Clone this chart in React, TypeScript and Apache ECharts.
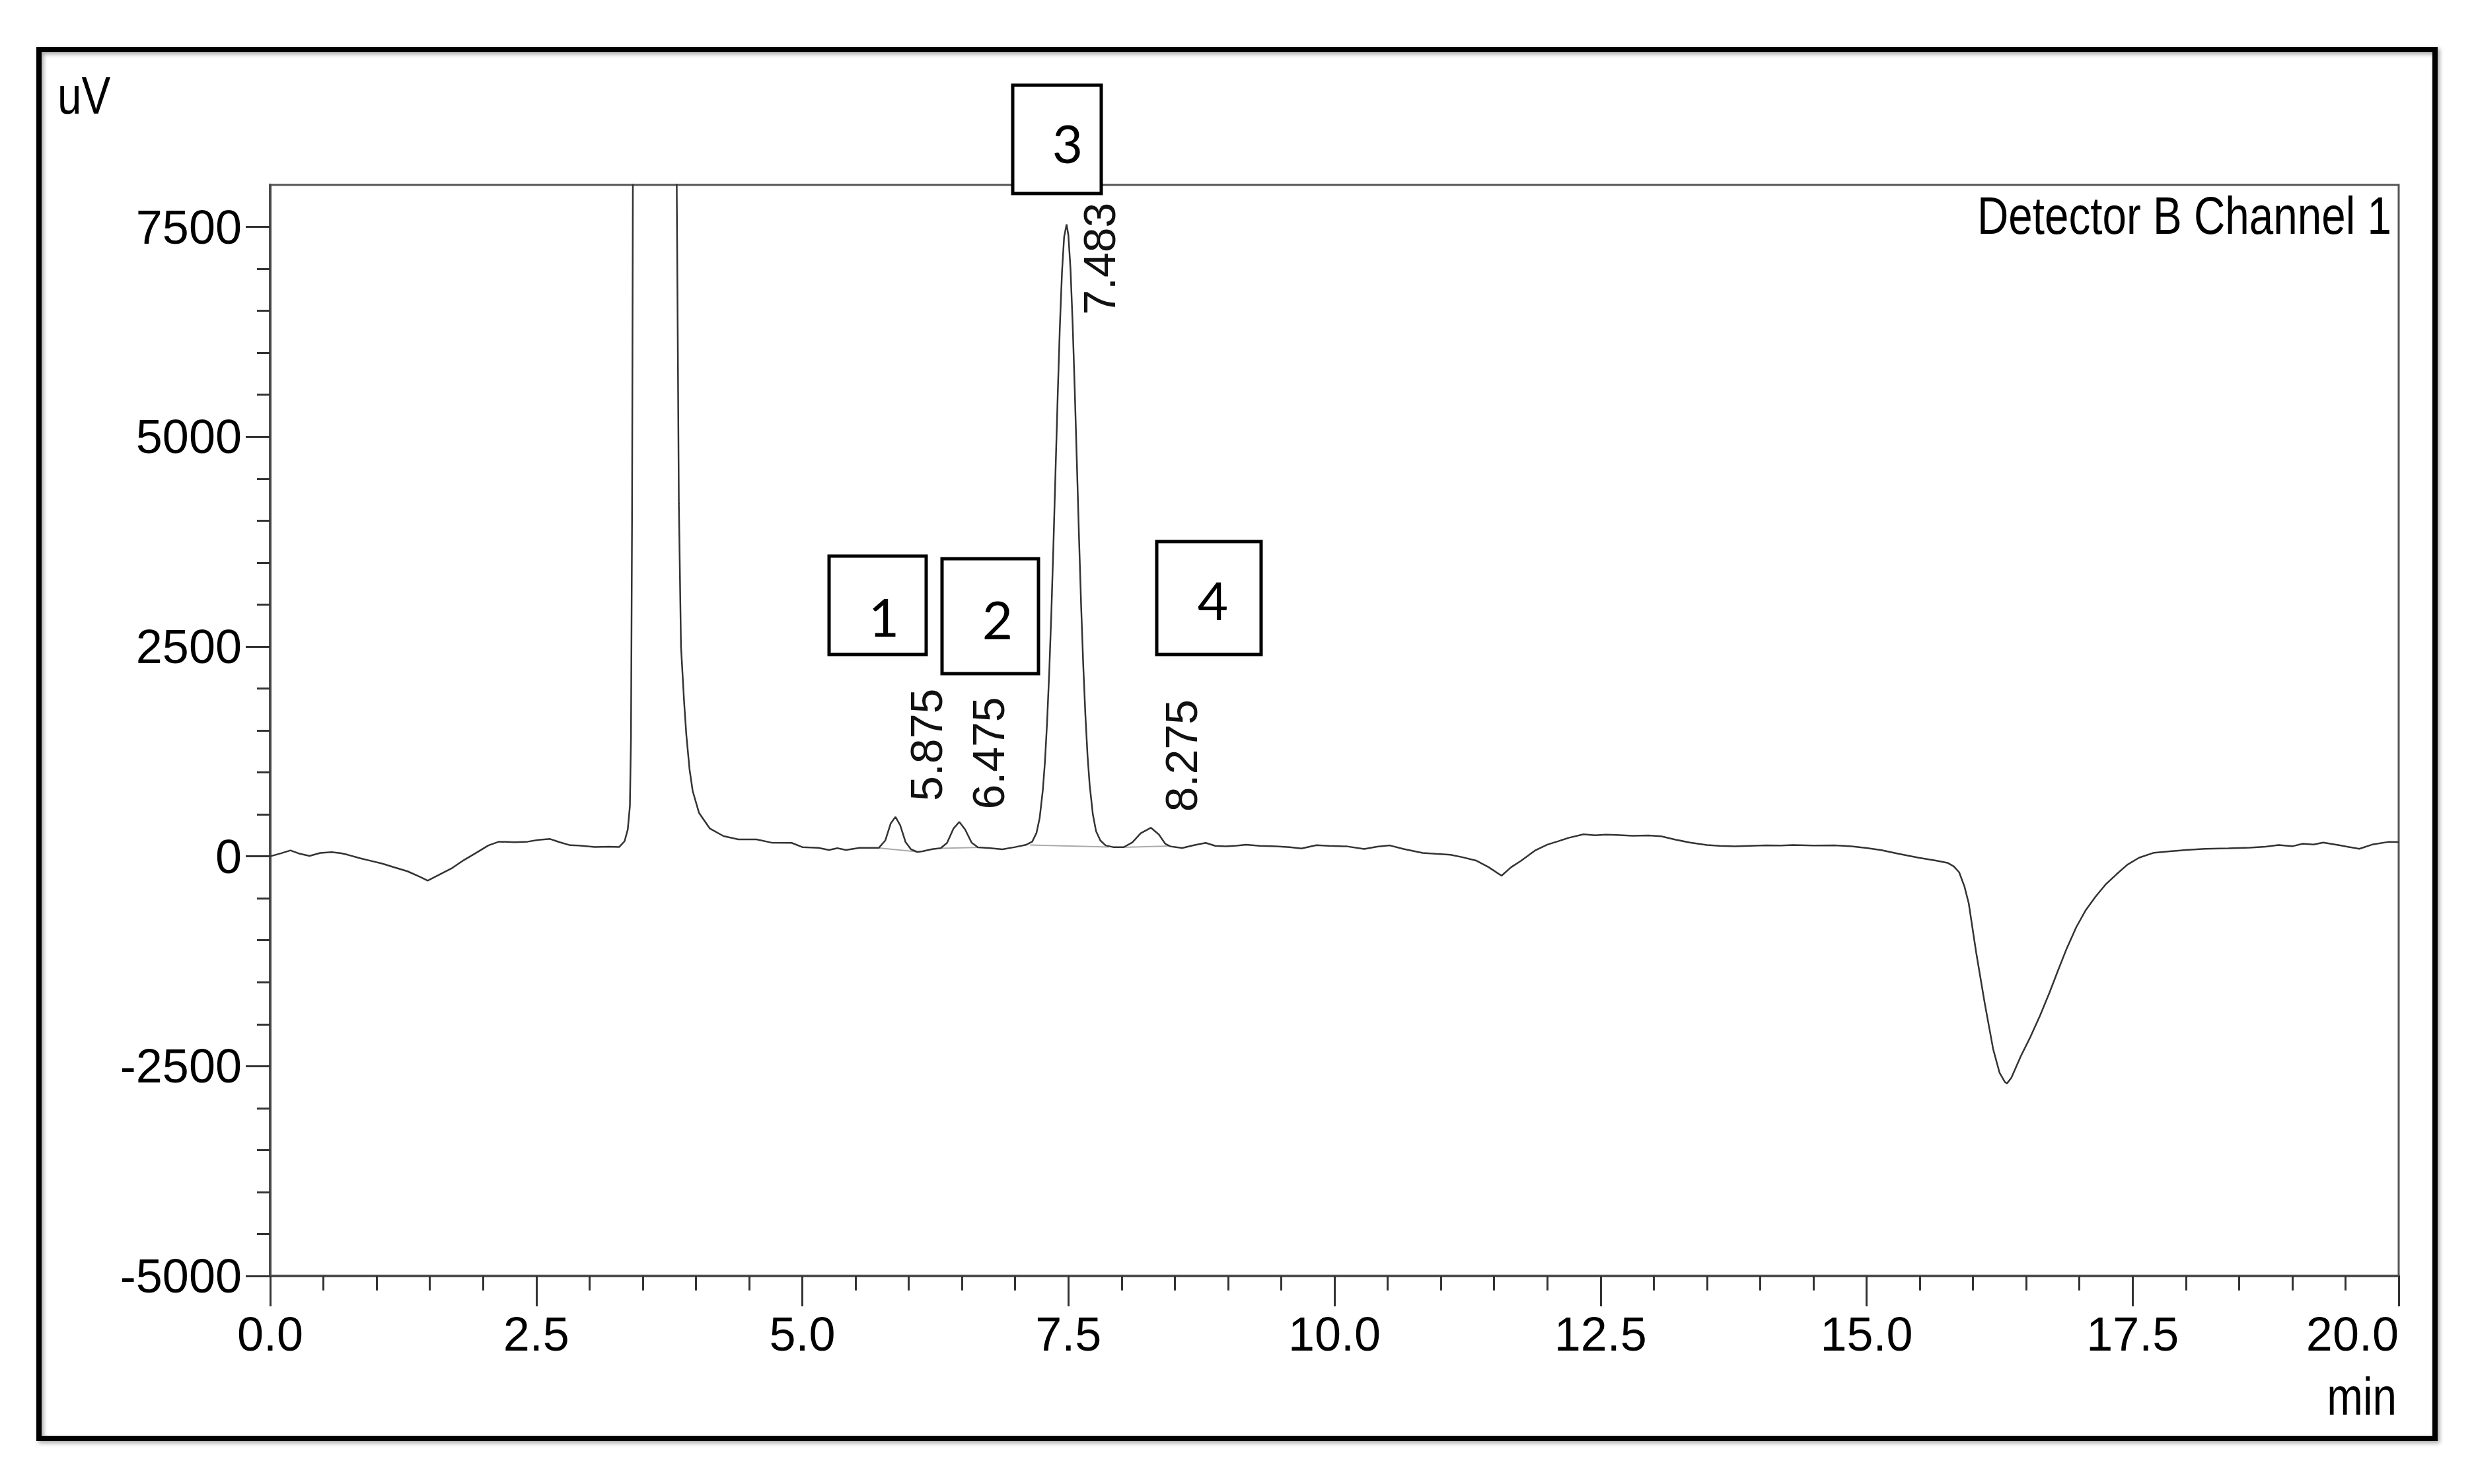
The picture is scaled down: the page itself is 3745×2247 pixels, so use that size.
import React, { useEffect, useRef } from 'react';
import * as echarts from 'echarts';

// ---------- DATA ----------
// chromatogram trace: [time (min), signal (uV)]
const trace: [number, number][] = [
  [0.00, 0], [0.10, 35], [0.19, 71], [0.28, 30], [0.37, 5], [0.47, 40], [0.58, 50], [0.66, 38],
  [0.73, 18], [0.85, -25], [0.95, -55], [1.05, -86], [1.15, -125], [1.29, -178], [1.40, -240],
  [1.48, -290], [1.58, -225], [1.71, -139], [1.82, -45], [1.94, 45], [2.05, 130], [2.15, 175],
  [2.30, 168], [2.42, 175], [2.52, 195], [2.63, 207], [2.72, 168], [2.82, 132], [2.90, 128],
  [3.05, 112], [3.18, 115], [3.28, 112], [3.33, 180], [3.36, 320], [3.38, 600], [3.39, 1400],
  [3.40, 4000], [3.41, 9000], [3.44, 20000], [3.60, 28000], [3.78, 18000], [3.82, 8000],
  [3.84, 4200], [3.86, 2500], [3.89, 1825], [3.91, 1450], [3.94, 1040], [3.97, 778], [4.03, 516],
  [4.13, 333], [4.26, 241], [4.40, 202], [4.57, 202], [4.71, 163], [4.90, 160], [5.00, 110],
  [5.15, 102], [5.25, 76], [5.33, 97], [5.41, 76], [5.54, 102], [5.72, 102], [5.78, 190],
  [5.83, 390], [5.875, 470], [5.92, 370], [5.97, 170], [6.02, 85], [6.08, 52], [6.13, 60],
  [6.22, 85], [6.30, 97], [6.36, 160], [6.42, 330], [6.475, 410], [6.53, 320], [6.59, 165],
  [6.65, 108], [6.75, 100], [6.88, 84], [7.00, 110], [7.10, 136], [7.16, 175], [7.20, 277],
  [7.23, 455], [7.26, 790], [7.28, 1130], [7.30, 1600], [7.32, 2190], [7.34, 2900], [7.36, 3730],
  [7.38, 4620], [7.40, 5500], [7.42, 6310], [7.44, 6960], [7.46, 7380], [7.483, 7530], [7.50, 7400],
  [7.52, 7000], [7.54, 6350], [7.56, 5550], [7.58, 4680], [7.60, 3800], [7.62, 2980], [7.64, 2270],
  [7.66, 1680], [7.68, 1200], [7.70, 850], [7.73, 500], [7.76, 300], [7.80, 190], [7.85, 130],
  [7.92, 110], [8.02, 109], [8.10, 165], [8.18, 275], [8.275, 341], [8.35, 260], [8.41, 150],
  [8.46, 118], [8.57, 100], [8.68, 132], [8.79, 160], [8.88, 125], [8.98, 118], [9.08, 126],
  [9.17, 139], [9.30, 124], [9.45, 118], [9.58, 110], [9.69, 94], [9.83, 133], [9.95, 124],
  [10.12, 118], [10.28, 88], [10.40, 115], [10.52, 130], [10.65, 88], [10.83, 40], [10.95, 30],
  [11.09, 19], [11.20, -10], [11.33, -50], [11.45, -130], [11.57, -231], [11.66, -130], [11.75, -56],
  [11.89, 73], [12.00, 140], [12.10, 179], [12.20, 220], [12.34, 263], [12.45, 250], [12.55, 258],
  [12.65, 255], [12.80, 245], [12.95, 248], [13.07, 239], [13.20, 200], [13.34, 164], [13.50, 135],
  [13.62, 125], [13.76, 119], [13.90, 125], [14.05, 130], [14.20, 128], [14.31, 134], [14.50, 128],
  [14.70, 130], [14.86, 119], [15.00, 100], [15.14, 73], [15.30, 30], [15.49, -17], [15.65, -50],
  [15.76, -77], [15.82, -120], [15.87, -190], [15.92, -360], [15.96, -560], [16.03, -1146],
  [16.11, -1748], [16.19, -2300], [16.25, -2580], [16.30, -2690], [16.32, -2705], [16.36, -2640],
  [16.45, -2380], [16.54, -2150], [16.63, -1898], [16.72, -1620], [16.80, -1356], [16.88, -1100],
  [16.97, -845], [17.06, -640], [17.15, -483], [17.25, -330], [17.35, -212], [17.45, -100],
  [17.56, -17], [17.70, 43], [17.85, 60], [18.00, 75], [18.18, 89], [18.40, 95], [18.60, 104],
  [18.75, 115], [18.87, 134], [19.00, 120], [19.10, 150], [19.20, 140], [19.29, 164], [19.45, 130],
  [19.63, 89], [19.75, 140], [19.91, 173], [20.00, 170],
];

// integration baselines drawn under the numbered peaks
const peakBaselines: [number, number][][] = [
  [[5.72, 100], [6.10, 52]],
  [[6.30, 95], [6.68, 108]],
  [[7.14, 135], [7.88, 112]],
  [[8.00, 108], [8.46, 122]],
];

const peakTimes = [5.875, 6.475, 7.483, 8.275];
const peakHeights = [470, 410, 7530, 341];
const peakLabels = ['5.875', '6.475', '7.483', '8.275'];
const peakNumbers = ['1', '2', '3', '4'];

const xMin = 0;
const xMax = 20;
const xStep = 2.5;
const yMin = -5000;
const yMax = 8000;
const yTickMax = 7500;
const yStep = 2500;

// ---------- STYLE / LAYOUT ----------
const W = 3745;
const H = 2247;
const SANS = "'Liberation Sans', Arial, sans-serif";
const gridLeft = 409;
const gridRight = W - 3631;
const gridTop = 280;
const gridBottom = H - 1932;
const plotH = H - gridTop - gridBottom;
const tickGridTop = gridTop + (plotH * (yMax - yTickMax)) / (yMax - yMin);

// peak-label offsets in pixels from the peak apex: [dx, dy(up)]
const labelOffsets: [number, number][] = [[47, 24], [44, 19], [49, -137], [46, 24]];
// numbered boxes: [x, y, w, h, textX, textY]
const boxes: number[][] = [
  [1255, 842, 147, 149, 1338, 933],
  [1426, 846, 146, 174, 1510, 937],
  [1533, 129, 134, 164, 1616, 216],
  [1751, 820, 158, 171, 1836, 908],
];

const AXIS_COLOR = '#4a4a4a';
const TICK_COLOR = '#333';
const AXIS_FONT = 72;
const NARROW_SCALE = 0.82;

function narrowText(text: string, x: number, y: number, align: string) {
  return {
    type: 'text',
    x,
    y,
    scaleX: NARROW_SCALE,
    z: 60,
    style: {
      text,
      fontSize: 80,
      fontFamily: SANS,
      fill: '#000',
      align,
      verticalAlign: 'middle',
      textAlign: align,
      textVerticalAlign: 'middle',
    },
  };
}

function buildOption(): any {
  const graphics: any[] = [
    {
      type: 'rect',
      shape: { x: 59, y: 75, width: 3627, height: 2103 },
      style: {
        fill: 'none',
        stroke: '#000',
        lineWidth: 8,
        shadowBlur: 6,
        shadowOffsetX: 3,
        shadowOffsetY: 3,
        shadowColor: 'rgba(0,0,0,0.35)',
      },
      z: 1,
    },
    narrowText('uV', 87, 145, 'left'),
    narrowText('Detector B Channel 1', 3620, 327, 'right'),
    narrowText('min', 3628, 2115, 'right'),
  ];
  boxes.forEach((b, i) => {
    graphics.push({
      type: 'rect',
      shape: { x: b[0], y: b[1], width: b[2], height: b[3] },
      style: { fill: '#fff', stroke: '#000', lineWidth: 5 },
      z: 50,
    });
    graphics.push({
      type: 'text',
      x: b[4],
      y: b[5],
      z: 51,
      style: {
        text: peakNumbers[i],
        fontSize: 80,
        fontFamily: 'Lato, Carlito, sans-serif',
        fill: '#000',
        align: 'center',
        verticalAlign: 'middle',
        textAlign: 'center',
        textVerticalAlign: 'middle',
      },
    });
  });

  const baselineSeries = peakBaselines.map((seg) => ({
    type: 'line',
    xAxisIndex: 0,
    yAxisIndex: 0,
    data: seg,
    symbol: 'none',
    silent: true,
    lineStyle: { color: '#aaa', width: 2 },
    z: 2,
  }));

  return {
    animation: false,
    backgroundColor: '#fff',
    grid: [
      {
        left: gridLeft, right: gridRight, top: gridTop, bottom: gridBottom,
        show: true, borderColor: '#555', borderWidth: 3, backgroundColor: 'transparent',
      },
      { left: gridLeft, right: gridRight, top: tickGridTop, bottom: gridBottom },
    ],
    xAxis: [
      {
        gridIndex: 0, type: 'value', min: xMin, max: xMax, interval: xStep,
        axisLine: { show: true, onZero: false, lineStyle: { color: AXIS_COLOR, width: 4 } },
        axisTick: { show: true, length: 46, lineStyle: { color: TICK_COLOR, width: 3 } },
        minorTick: { show: true, splitNumber: 5, length: 22, lineStyle: { color: TICK_COLOR, width: 3 } },
        axisLabel: {
          formatter: (v: number) => v.toFixed(1),
          fontSize: AXIS_FONT,
          fontFamily: SANS,
          color: '#000',
          margin: 52,
          alignMaxLabel: 'right',
        },
        splitLine: { show: false },
        minorSplitLine: { show: false },
      },
      { gridIndex: 1, type: 'value', min: xMin, max: xMax, show: false },
    ],
    yAxis: [
      {
        gridIndex: 0, type: 'value', min: yMin, max: yMax,
        axisLine: { show: true, onZero: false, lineStyle: { color: AXIS_COLOR, width: 4 } },
        axisTick: { show: false },
        axisLabel: { show: false },
        splitLine: { show: false },
      },
      {
        gridIndex: 1, type: 'value', min: yMin, max: yTickMax, interval: yStep,
        axisLine: { show: false, onZero: false },
        axisTick: { show: true, length: 37, lineStyle: { color: TICK_COLOR, width: 3 } },
        minorTick: { show: true, splitNumber: 5, length: 20, lineStyle: { color: TICK_COLOR, width: 3 } },
        axisLabel: {
          formatter: (v: number) => String(v),
          fontSize: AXIS_FONT,
          fontFamily: SANS,
          color: '#000',
          margin: 43,
        },
        splitLine: { show: false },
        minorSplitLine: { show: false },
      },
    ],
    graphic: { elements: graphics },
    series: [
      {
        type: 'line',
        xAxisIndex: 0,
        yAxisIndex: 0,
        data: trace,
        symbol: 'none',
        showSymbol: false,
        clip: true,
        lineStyle: { color: '#333', width: 2.5 },
        z: 3,
      },
      ...baselineSeries,
      {
        type: 'custom',
        xAxisIndex: 0,
        yAxisIndex: 0,
        clip: false,
        silent: true,
        z: 5,
        data: peakTimes.map((t, i) => [t, peakHeights[i]]),
        renderItem: (params: any, api: any) => {
          const i = params.dataIndex;
          const p = api.coord([api.value(0), api.value(1)]);
          const off = labelOffsets[i];
          return {
            type: 'text',
            x: p[0] + off[0],
            y: p[1] - off[1],
            rotation: Math.PI / 2,
            style: {
              text: peakLabels[i],
              fontSize: 68,
              fontFamily: SANS,
              fill: '#111',
              align: 'left',
              verticalAlign: 'middle',
              textAlign: 'left',
              textVerticalAlign: 'middle',
            },
          };
        },
      },
    ],
  };
}

export default function App() {
  const ref = useRef<HTMLDivElement>(null);
  useEffect(() => {
    if (!ref.current) return;
    const chart = echarts.init(ref.current, null, { renderer: 'svg' });
    chart.setOption(buildOption());
    return () => {
      chart.dispose();
    };
  }, []);
  return (
    <div
      ref={ref}
      style={{ position: 'fixed', left: 0, top: 0, width: W, height: H, background: '#fff' }}
    />
  );
}
